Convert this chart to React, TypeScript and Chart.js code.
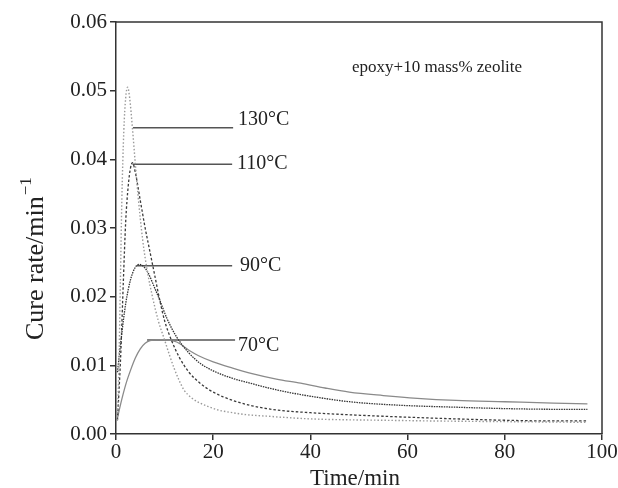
import React, { useEffect, useRef } from "react";
import { Chart, registerables } from "chart.js";

Chart.register(...registerables);

// ---- data ----
const time130 = [0.3, 0.6, 0.9, 1.2, 1.6, 2.0, 2.4, 2.8, 3.4, 3.9, 4.5, 5.5, 6.5, 7.5, 8.7, 10, 11, 12, 13, 14, 15.5, 17, 19, 21, 24, 27, 31, 35, 40, 45, 55, 65, 80, 97];
const rate130 = [0.002, 0.010, 0.022, 0.034, 0.044, 0.049, 0.0505, 0.049, 0.0444, 0.040, 0.035, 0.0282, 0.0235, 0.020, 0.0165, 0.0137, 0.0115, 0.0095, 0.0078, 0.0064, 0.0053, 0.0046, 0.0040, 0.0035, 0.0031, 0.0028, 0.0026, 0.0024, 0.0022, 0.0021, 0.0020, 0.0019, 0.0018, 0.0017];

const time110 = [0.3, 0.6, 1.0, 1.5, 2.0, 2.5, 3.0, 3.4, 4.0, 5.0, 6.0, 7.0, 8.0, 9.0, 10, 11.5, 13, 15, 17.3, 20, 24, 28, 33, 40, 48, 58, 70, 80, 90, 97];
const rate110 = [0.002, 0.006, 0.012, 0.022, 0.031, 0.036, 0.0388, 0.0395, 0.038, 0.034, 0.030, 0.0265, 0.023, 0.0195, 0.0165, 0.0135, 0.0112, 0.0090, 0.0074, 0.0061, 0.0049, 0.0041, 0.0035, 0.0031, 0.0028, 0.0025, 0.0022, 0.0020, 0.0019, 0.0019];

const time90 = [0.3, 1.0, 2.0, 3.0, 4.0, 4.8, 5.5, 6.5, 8.0, 9.0, 10.5, 12.5, 15, 17.3, 20, 24, 27.6, 32, 36, 40, 48, 58, 70, 80, 90, 97];
const rate90 = [0.009, 0.0135, 0.019, 0.0225, 0.0243, 0.0247, 0.0245, 0.0236, 0.0212, 0.0195, 0.0168, 0.0141, 0.0118, 0.0103, 0.0092, 0.0081, 0.0074, 0.0066, 0.0060, 0.0055, 0.0047, 0.0042, 0.0039, 0.0037, 0.0036, 0.0036];

const time70 = [0.2, 1.0, 2.0, 3.0, 4.0, 5.0, 6.0, 7.0, 8.5, 10, 12.5, 15, 17, 20, 24, 28, 33, 38, 43, 48, 55, 62, 70, 80, 90, 97];
const rate70 = [0.002, 0.0045, 0.0072, 0.0093, 0.0111, 0.0124, 0.0132, 0.0136, 0.0137, 0.0137, 0.0134, 0.0122, 0.0114, 0.0105, 0.0096, 0.0088, 0.0080, 0.0074, 0.0067, 0.0061, 0.0056, 0.0052, 0.0049, 0.0047, 0.0045, 0.0044];

const curveLabels = ["130°C", "110°C", "90°C", "70°C"];
const leaderY = [0.0446, 0.0393, 0.0245, 0.0137];
const leaderStart = [3.5, 3.4, 4.3, 6.4];
const leaderEnd = [24.1, 23.9, 23.9, 24.5];
const labelX = [25.1, 24.9, 25.5, 25.1];
const labelY = [0.0457, 0.0394, 0.0245, 0.0128];

const xTicks = [0, 20, 40, 60, 80, 100];
const yTicks = [0, 0.01, 0.02, 0.03, 0.04, 0.05, 0.06];
const annotation = "epoxy+10 mass% zeolite";
const xTitle = "Time/min";
const yTitle = "Cure rate/min";
const yTitleSup = "\u22121";

const SERIF = "'Liberation Serif', 'Times New Roman', serif";

function pts(xs: number[], ys: number[]) {
  return xs.map((x, i) => ({ x, y: ys[i] }));
}

const overlay = {
  id: "overlay",
  afterDatasetsDraw(chart: any) {
    const { ctx, chartArea, scales } = chart;
    const xs = scales.x;
    const ys = scales.y;
    ctx.save();
    // frame (top and right)
    ctx.strokeStyle = "#333";
    ctx.lineWidth = 1.5;
    ctx.beginPath();
    ctx.moveTo(chartArea.left, chartArea.top);
    ctx.lineTo(chartArea.right, chartArea.top);
    ctx.lineTo(chartArea.right, chartArea.bottom);
    ctx.stroke();

    // curve labels
    ctx.fillStyle = "#222";
    ctx.font = `20px ${SERIF}`;
    ctx.textAlign = "left";
    ctx.textBaseline = "middle";
    curveLabels.forEach((t, i) => {
      ctx.fillText(t, xs.getPixelForValue(labelX[i]), ys.getPixelForValue(labelY[i]));
    });

    // annotation
    ctx.font = `17px ${SERIF}`;
    ctx.textBaseline = "alphabetic";
    ctx.fillText(annotation, 352, 72);

    // x title
    ctx.font = `23px ${SERIF}`;
    ctx.textAlign = "center";
    ctx.fillText(xTitle, 355, 485);

    // y title
    ctx.translate(43, 340);
    ctx.rotate(-Math.PI / 2);
    ctx.textAlign = "left";
    ctx.font = `26px ${SERIF}`;
    ctx.fillText(yTitle, 0, 0);
    const w = ctx.measureText(yTitle).width;
    ctx.font = `17px ${SERIF}`;
    ctx.fillText(yTitleSup, w + 1, -12);
    ctx.restore();
  },
};

export default function App() {
  const ref = useRef<HTMLCanvasElement | null>(null);

  useEffect(() => {
    if (!ref.current) return;
    const leaderSets = curveLabels.map((lab, i) => ({
      label: lab + " leader",
      data: [
        { x: leaderStart[i], y: leaderY[i] },
        { x: leaderEnd[i], y: leaderY[i] },
      ],
      borderColor: "#555",
      borderWidth: 1.5,
      pointRadius: 0,
      fill: false,
    }));
    const chart = new Chart(ref.current, {
      type: "line",
      data: {
        datasets: [
          {
            label: "130°C",
            data: pts(time130, rate130),
            borderColor: "#9a9a9a",
            borderWidth: 1.4,
            borderDash: [1.5, 2],
            pointRadius: 0,
            cubicInterpolationMode: "monotone",
            fill: false,
          },
          {
            label: "110°C",
            data: pts(time110, rate110),
            borderColor: "#3a3a3a",
            borderWidth: 1.3,
            borderDash: [2.5, 2],
            pointRadius: 0,
            cubicInterpolationMode: "monotone",
            fill: false,
          },
          {
            label: "90°C",
            data: pts(time90, rate90),
            borderColor: "#333",
            borderWidth: 1.3,
            borderDash: [1.5, 1],
            pointRadius: 0,
            cubicInterpolationMode: "monotone",
            fill: false,
          },
          {
            label: "70°C",
            data: pts(time70, rate70),
            borderColor: "#8a8a8a",
            borderWidth: 1.3,
            pointRadius: 0,
            cubicInterpolationMode: "monotone",
            fill: false,
          },
          ...leaderSets,
        ] as any,
      },
      options: {
        responsive: false,
        animation: false,
        layout: { padding: { top: 22, right: 16, left: 0, bottom: 0 } },
        plugins: { legend: { display: false }, tooltip: { enabled: false } },
        scales: {
          x: {
            type: "linear",
            min: 0,
            max: 100,
            afterFit: (s: any) => {
              s.height = 54;
            },
            afterBuildTicks: (s: any) => {
              s.ticks = xTicks.map((v) => ({ value: v }));
            },
            ticks: {
              color: "#222",
              font: { family: SERIF, size: 21 },
              padding: 0,
              maxRotation: 0,
              callback: (v: any) => String(v),
            },
            grid: {
              drawOnChartArea: false,
              drawTicks: true,
              tickLength: 6,
              color: "#333",
              lineWidth: 1.5,
            },
            border: { display: true, color: "#333", width: 1.5 },
          },
          y: {
            type: "linear",
            min: 0,
            max: 0.06,
            afterFit: (s: any) => {
              s.width = 116;
            },
            afterBuildTicks: (s: any) => {
              s.ticks = yTicks.map((v) => ({ value: v }));
            },
            ticks: {
              color: "#222",
              font: { family: SERIF, size: 21 },
              padding: 3,
              callback: (v: any) => Number(v).toFixed(2),
            },
            grid: {
              drawOnChartArea: false,
              drawTicks: true,
              tickLength: 6,
              color: "#333",
              lineWidth: 1.5,
            },
            border: { display: true, color: "#333", width: 1.5 },
          },
        },
      } as any,
      plugins: [overlay],
    });
    return () => chart.destroy();
  }, []);

  return (
    <div style={{ position: "fixed", left: 0, top: 0, width: 618, height: 488, background: "#fff" }}>
      <canvas ref={ref} width={618} height={488} style={{ display: "block" }} />
    </div>
  );
}
